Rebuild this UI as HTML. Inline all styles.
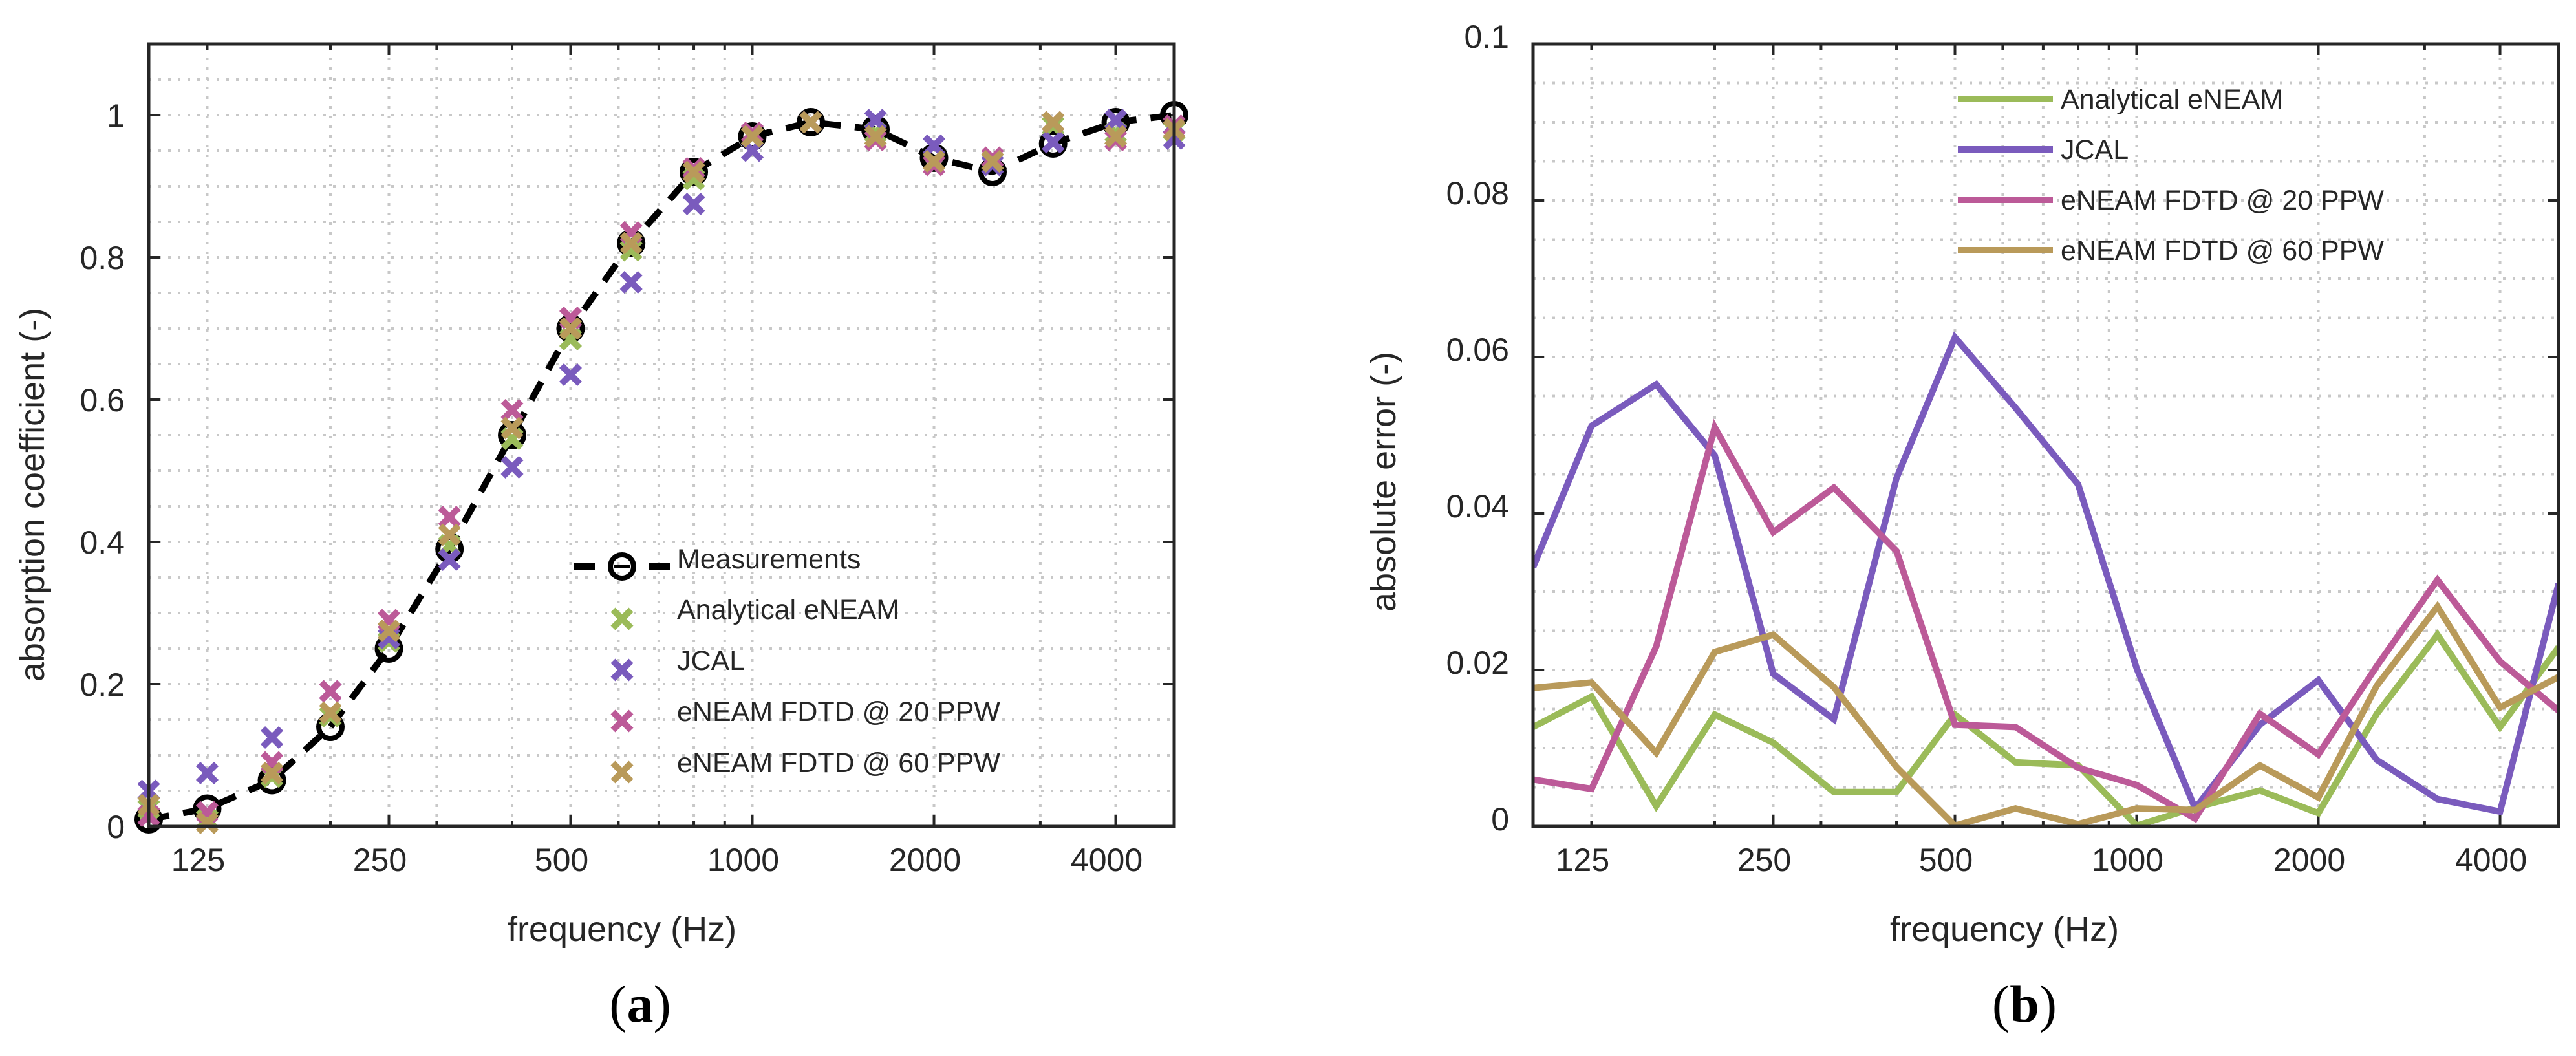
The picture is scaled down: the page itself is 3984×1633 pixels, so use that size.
<!DOCTYPE html>
<html><head><meta charset="utf-8"><style>
html,body{margin:0;padding:0;background:#fff;}
svg{display:block;}
text{font-family:"Liberation Sans",sans-serif;fill:#262626;}
</style></head><body>
<svg id="fig" width="3984" height="1633" viewBox="0 0 3984 1633" xmlns="http://www.w3.org/2000/svg">
<g id="panelA"></g>
<g id="panelB"></g>
</svg>
<script>
const freqs = [100,125,160,200,250,315,400,500,630,800,1000,1250,1600,2000,2500,3150,4000,5000];
const xTickLabels = [125,250,500,1000,2000,4000];
const minorGrid = [125,200,250,300,400,500,600,700,800,900,1000,2000,3000,4000];
const majorTicks = [250,500,1000,2000,4000];
// panel a: absorption coefficients
const measured = [0.01,0.025,0.065,0.14,0.25,0.39,0.55,0.70,0.82,0.92,0.97,0.99,0.98,0.94,0.92,0.96,0.99,1.00];
const analyticalA = [0.025,0.01,0.07,0.155,0.26,0.395,0.545,0.685,0.81,0.91,0.97,0.99,0.975,0.935,0.935,0.985,0.975,0.978];
const jcalA = [0.05,0.075,0.125,0.19,0.265,0.375,0.505,0.635,0.765,0.875,0.95,0.99,0.993,0.957,0.93,0.962,0.993,0.967];
const ppw20A = [0.015,0.02,0.09,0.19,0.29,0.435,0.585,0.715,0.835,0.925,0.975,0.99,0.965,0.93,0.94,0.99,0.965,0.985];
const ppw60A = [0.03,0.005,0.075,0.16,0.275,0.41,0.56,0.70,0.82,0.92,0.97,0.99,0.97,0.935,0.935,0.99,0.97,0.98];
const yTicksA = [0,0.2,0.4,0.6,0.8,1];
const yTickLabelsA = ["0","0.2","0.4","0.6","0.8","1"];
// panel b: absolute errors
const analyticalB = [0.0127,0.0166,0.0026,0.0143,0.0107,0.0044,0.0044,0.0143,0.0082,0.0078,0.0001,0.0024,0.0046,0.0017,0.0144,0.0245,0.0127,0.0229];
const jcalB = [0.0331,0.0512,0.0565,0.0474,0.0195,0.0137,0.0445,0.0625,0.0535,0.0437,0.0202,0.0023,0.013,0.0187,0.0085,0.0035,0.0019,0.031];
const ppw20B = [0.006,0.0048,0.023,0.051,0.0376,0.0433,0.0352,0.013,0.0127,0.0075,0.0053,0.001,0.0144,0.0092,0.0205,0.0315,0.0211,0.0148];
const ppw60B = [0.0177,0.0184,0.0094,0.0223,0.0245,0.0178,0.0076,0.0001,0.0023,0.0003,0.0023,0.0021,0.0078,0.0037,0.018,0.0281,0.0152,0.0191];
const yTicksB = [0,0.02,0.04,0.06,0.08,0.1];
const yTickLabelsB = ["0","0.02","0.04","0.06","0.08","0.1"];
const legendNames = ["Analytical eNEAM","JCAL","eNEAM FDTD @ 20 PPW","eNEAM FDTD @ 60 PPW"];

const COLORS = ["#9bbb59","#7a5bbd","#bc5a98","#b99a5a"];
const NS = "http://www.w3.org/2000/svg";
function mk(parent, tag, attrs, txt){
  const e = document.createElementNS(NS, tag);
  for (const k in attrs) e.setAttribute(k, attrs[k]);
  if (txt !== undefined) e.textContent = txt;
  parent.appendChild(e);
  return e;
}
const Y0 = 1278, Y1 = 68;
function makeAxes(g, left, ymax, yTicks, yLabels, gridStep, labelDy){
  const right = left + 1586;
  const X = f => left + (Math.log2(f/100) / Math.log2(50)) * 1586;
  const Y = v => Y0 - v / ymax * (Y0 - Y1);
  const grid = mk(g,'g',{});
  
  
  for (let v = gridStep; v < ymax - 1e-9; v += gridStep) {
    mk(grid,'line',{x1:left,x2:right,y1:Y(v),y2:Y(v),stroke:'#c8c8c8','stroke-width':4,'stroke-dasharray':'4 11'});
  }
  minorGrid.forEach(f => {
    mk(grid,'line',{x1:X(f),x2:X(f),y1:Y0,y2:Y1,stroke:'#c8c8c8','stroke-width':4,'stroke-dasharray':'4 11'});
  });
  const ticks = mk(g,'g',{stroke:'#262626','stroke-width':4});
  
  
  minorGrid.forEach(f => {
    const L = majorTicks.includes(f) ? 17 : 9;
    mk(ticks,'line',{x1:X(f),x2:X(f),y1:Y0,y2:Y0-L});
    mk(ticks,'line',{x1:X(f),x2:X(f),y1:Y1,y2:Y1+L});
  });
  yTicks.forEach(v => {
    mk(ticks,'line',{x1:left,x2:left+17,y1:Y(v),y2:Y(v)});
    mk(ticks,'line',{x1:right,x2:right-17,y1:Y(v),y2:Y(v)});
  });
  xTickLabels.forEach(f => {
    const t = mk(g,'text',{x:X(f)-14,y:1347,'text-anchor':'middle','font-size':50},String(f));
    
    
  });
  yTicks.forEach((v,i) => {
    const t = mk(g,'text',{x:left-37,y:Y(v)+18-labelDy,'text-anchor':'end','font-size':50},yLabels[i]);
    
    
  });
  return {X, Y, right};
}
function frame(g,left){
  const r = mk(g,'rect',{x:left,y:Y1,width:1586,height:Y0-Y1,fill:'none',stroke:'#262626','stroke-width':5});
  
  
}
function cross(g, x, y, color){
  const c = mk(g,'path',{d:`M${x-14},${y-14}L${x+14},${y+14}M${x+14},${y-14}L${x-14},${y+14}`,stroke:color,'stroke-width':10});
  return c;
}

// ---------- Panel A ----------
const gA = document.getElementById('panelA');
const A = makeAxes(gA, 230, 1.1, yTicksA, yTickLabelsA, 0.05, 0);
const mLine = mk(gA,'polyline',{points:freqs.map((f,i)=>A.X(f)+','+A.Y(measured[i])).join(' '),fill:'none',stroke:'#000','stroke-width':10,'stroke-dasharray':'32 22'});


freqs.forEach((f,i) => {
  const c = mk(gA,'circle',{cx:A.X(f),cy:A.Y(measured[i]),r:18,fill:'none',stroke:'#000','stroke-width':8});
  
  
});
[analyticalA, jcalA, ppw20A, ppw60A].forEach((ser,si) => {
  const sg = mk(gA,'g',{});
  
  
  freqs.forEach((f,i) => {
    const c = cross(sg, A.X(f), A.Y(ser[i]), COLORS[si]);
    
    
  });
});
frame(gA,230);
// legend A
const legA = mk(gA,'g',{});


mk(legA,'line',{x1:888,x2:920,y1:876,y2:876,stroke:'#000','stroke-width':10});
mk(legA,'line',{x1:1004,x2:1036,y1:876,y2:876,stroke:'#000','stroke-width':10});
mk(legA,'circle',{cx:962,cy:876,r:18,fill:'none',stroke:'#000','stroke-width':8});
mk(legA,'line',{x1:950,x2:974,y1:876,y2:876,stroke:'#000','stroke-width':6});
const le0 = mk(legA,'text',{x:1047,y:879,'font-size':43,fill:'#000'},'Measurements');


legendNames.forEach((n,i) => {
  const yc = 957 + i*79;
  cross(legA, 962, yc, COLORS[i]);
  const t = mk(legA,'text',{x:1047,y:yc,'font-size':43,fill:'#000'},n);
  
  
});
const xtA = mk(gA,'text',{x:962,y:1455,'text-anchor':'middle','font-size':54},'frequency (Hz)');


const ytA = mk(gA,'text',{x:0,y:0,'text-anchor':'middle','font-size':54,transform:'translate(68,765) rotate(-90)'},'absorption coefficient (-)');


const capA = mk(gA,'text',{x:990,y:1580,'text-anchor':'middle','font-size':82,style:'font-family:"Liberation Serif",serif;fill:#000'});


capA.innerHTML = '(<tspan font-weight="bold">a</tspan>)';

// ---------- Panel B ----------
const gB = document.getElementById('panelB');
const B = makeAxes(gB, 2371, 0.1, yTicksB, yTickLabelsB, 0.005, 12);
const clipB = mk(gB,'clipPath',{id:'clipB'});
mk(clipB,'rect',{x:2371,y:Y1,width:1586,height:Y0-Y1});
[analyticalB, jcalB, ppw20B, ppw60B].forEach((ser,si) => {
  const p = mk(gB,'polyline',{points:freqs.map((f,i)=>B.X(f)+','+B.Y(ser[i])).join(' '),fill:'none',stroke:COLORS[si],'stroke-width':10,'stroke-linejoin':'miter','clip-path':'url(#clipB)'});
  
  
});
frame(gB,2371);
const legB = mk(gB,'g',{});


legendNames.forEach((n,i) => {
  const yc = 153 + i*78;
  mk(legB,'line',{x1:3028,x2:3175,y1:yc,y2:yc,stroke:COLORS[i],'stroke-width':10});
  const t = mk(legB,'text',{x:3187,y:yc+15,'font-size':43,fill:'#000'},n);
  
  
});
const xtB = mk(gB,'text',{x:3100,y:1455,'text-anchor':'middle','font-size':54},'frequency (Hz)');


const ytB = mk(gB,'text',{x:0,y:0,'text-anchor':'middle','font-size':54,transform:'translate(2158,745) rotate(-90)'},'absolute error (-)');


const capB = mk(gB,'text',{x:3131,y:1580,'text-anchor':'middle','font-size':82,style:'font-family:"Liberation Serif",serif;fill:#000'});


capB.innerHTML = '(<tspan font-weight="bold">b</tspan>)';
</script>
</body></html>
